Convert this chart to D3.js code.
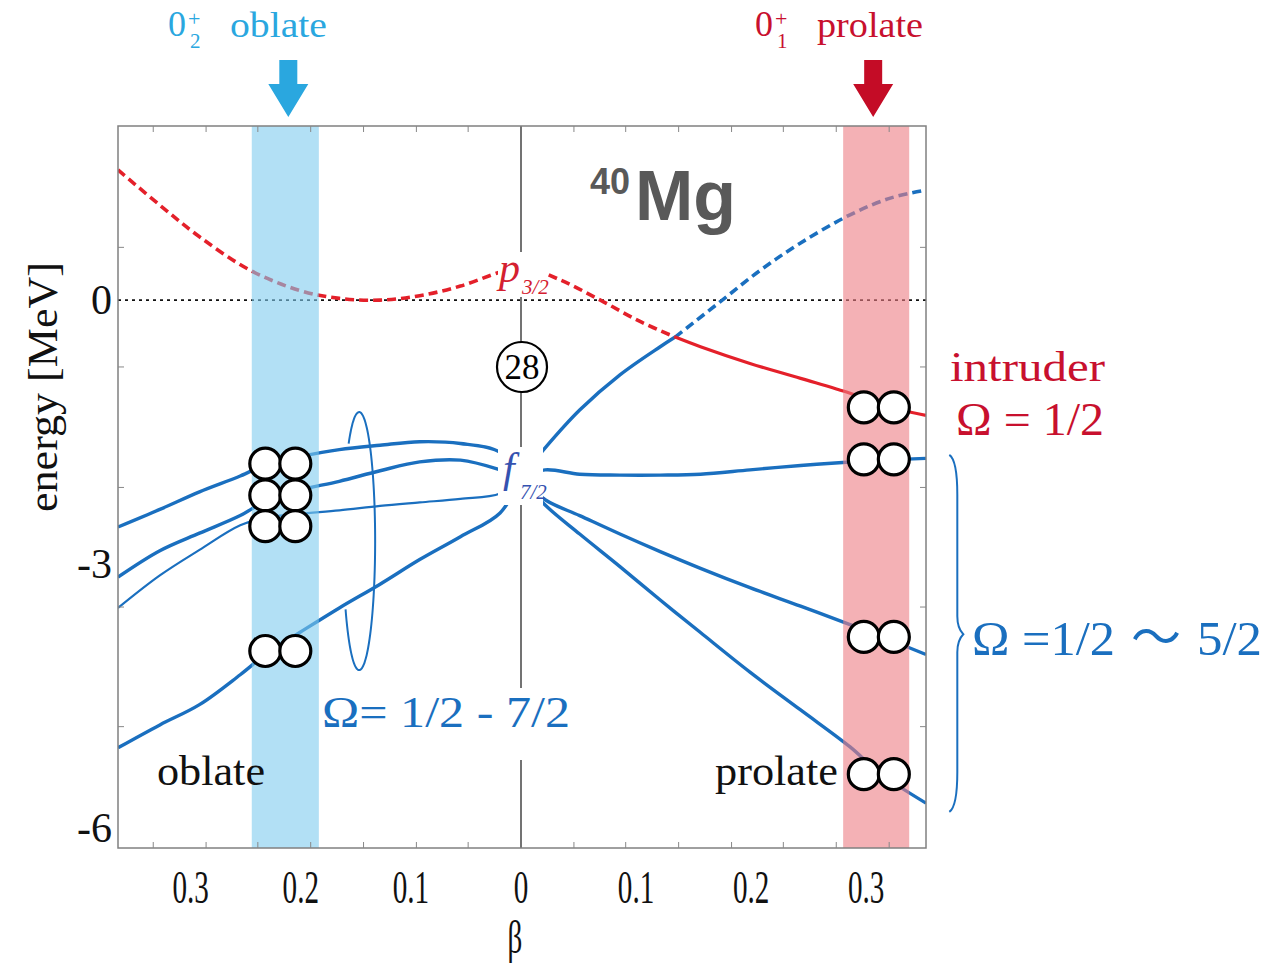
<!DOCTYPE html>
<html>
<head>
<meta charset="utf-8">
<script src="https://cdn.jsdelivr.net/npm/d3@7"></script>
<style>
  body { margin: 0; background: #fff; }
  svg { display: block; font-family: "Liberation Serif", "Times New Roman", serif; }
</style>
</head>
<body>
<svg id="chart" width="1276" height="963"></svg>
<script>
// Nilsson-type single-particle levels of 40Mg versus deformation β
// (oblate side drawn with negative β, prolate side with positive β)

// oblate side sampling grid and levels (MeV)
const betaOblate = [-0.366, -0.328, -0.292, -0.255, -0.230, -0.201, -0.165, -0.128, -0.092, -0.055, -0.019, 0];
const oblateLevelA = [-2.58, -2.38, -2.18, -2.00, -1.86, -1.78, -1.70, -1.65, -1.61, -1.63, -1.73, -2.02];
const oblateLevelB = [-3.15, -2.85, -2.65, -2.45, -2.27, -2.16, -2.06, -1.94, -1.84, -1.82, -1.93, -2.02];
const oblateLevelC = [-3.50, -3.13, -2.84, -2.56, -2.47, -2.43, -2.39, -2.34, -2.30, -2.26, -2.20, -2.02];
const oblateLevelD = [-5.09, -4.83, -4.60, -4.26, -4.01, -3.78, -3.50, -3.23, -2.95, -2.69, -2.42, -2.02];

// prolate side sampling grid and levels (MeV)
const betaProlate = [0, 0.021, 0.051, 0.086, 0.121, 0.156, 0.199, 0.243, 0.286, 0.312, 0.352];
const prolateLevelFlat = [-2.02, -1.93, -1.98, -1.99, -1.99, -1.98, -1.93, -1.88, -1.84, -1.82, -1.80];
const prolateLevelMid = [-2.02, -2.27, -2.45, -2.66, -2.86, -3.05, -3.27, -3.48, -3.69, -3.82, -4.03];
const prolateLevelLow = [-2.02, -2.33, -2.66, -3.03, -3.41, -3.78, -4.23, -4.66, -5.08, -5.38, -5.72];

// f7/2 Ω=1/2 level rising on the prolate side (solid below the crossing, dashed above)
const risingBetaSolid = [0, 0.021, 0.051, 0.086, 0.121, 0.134];
const risingESolid = [-2.02, -1.68, -1.25, -0.85, -0.53, -0.42];
const risingBetaDashed = [0.134, 0.173, 0.208, 0.243, 0.286, 0.321, 0.352];
const risingEDashed = [-0.42, -0.02, 0.34, 0.65, 0.97, 1.16, 1.25];

// p3/2 intruder level
const intruderBetaDashed = [-0.366, -0.328, -0.292, -0.246, -0.201, -0.165, -0.128, -0.092, -0.055, -0.019, 0, 0.034, 0.069, 0.103, 0.134];
const intruderEDashed = [1.48, 1.08, 0.72, 0.34, 0.11, 0.02, 0.00, 0.05, 0.16, 0.32, 0.39, 0.23, 0.00, -0.24, -0.42];
const intruderBetaSolid = [0.134, 0.156, 0.199, 0.243, 0.286, 0.312, 0.352];
const intruderESolid = [-0.42, -0.53, -0.72, -0.89, -1.06, -1.19, -1.31];

// occupied neutron pairs at the two minima
const oblateMinBeta = -0.2186;
const oblatePairE = [-1.86, -2.22, -2.57, -3.99];
const prolateMinBeta = 0.311;
const prolatePairE = [-1.22, -1.81, -3.83, -5.39];

// shaded deformation windows
const oblateBand = [-0.2445, -0.1836];
const prolateBand = [0.280, 0.3374];

// axis ticks
const betaTickValues = [-0.3, -0.2, -0.1, 0, 0.1, 0.2, 0.3];
const energyTickValues = [0, -3, -6];
const betaMinorTicks = [-0.334, -0.286, -0.239, -0.191, -0.143, -0.095, -0.048, 0.046, 0.091, 0.137, 0.183, 0.228, 0.274, 0.320];
const energyMinorTicks = [0.60, -0.76, -2.13, -3.49, -4.85];

const blue = "#1a6fbf";
const red = "#e4202a";
const crimson = "#c8102e";
const sky = "#2aa7df";

const svg = d3.select("#chart");
const plot = { left: 118, right: 926, top: 126, bottom: 848 };

const x = d3.scaleLinear().domain([-0.366, 0, 0.352]).range([plot.left, 521, plot.right]);
const y = d3.scaleLinear().domain([1.98, -6.23]).range([plot.top, plot.bottom]);

const zip = (bs, es) => bs.map((b, i) => [b, es[i]]);
const line = d3.line().x(d => x(d[0])).y(d => y(d[1])).curve(d3.curveCatmullRom.alpha(0.5));

svg.append("clipPath").attr("id", "plotClip")
  .append("rect").attr("x", plot.left).attr("y", plot.top)
  .attr("width", plot.right - plot.left).attr("height", plot.bottom - plot.top);

// zero-energy reference and β = 0 axis
svg.append("line")
  .attr("x1", plot.left).attr("x2", plot.right).attr("y1", y(0)).attr("y2", y(0))
  .attr("stroke", "#111").attr("stroke-width", 1.6).attr("stroke-dasharray", "3,4");
svg.append("line")
  .attr("x1", x(0)).attr("x2", x(0)).attr("y1", plot.top).attr("y2", plot.bottom)
  .attr("stroke", "#444").attr("stroke-width", 1.5);

// levels
const levels = svg.append("g").attr("clip-path", "url(#plotClip)").attr("fill", "none");
const levelDefs = [
  { pts: zip(betaOblate, oblateLevelA), color: blue, w: 3.4 },
  { pts: zip(betaOblate, oblateLevelB), color: blue, w: 3.4 },
  { pts: zip(betaOblate, oblateLevelC), color: blue, w: 2.2 },
  { pts: zip(betaOblate, oblateLevelD), color: blue, w: 3.4 },
  { pts: zip(betaProlate, prolateLevelFlat), color: blue, w: 3.4 },
  { pts: zip(betaProlate, prolateLevelMid), color: blue, w: 3.4 },
  { pts: zip(betaProlate, prolateLevelLow), color: blue, w: 3.4 },
  { pts: zip(risingBetaSolid, risingESolid), color: blue, w: 3.4 },
  { pts: zip(risingBetaDashed, risingEDashed), color: blue, w: 3.6, dash: "9,5" },
  { pts: zip(intruderBetaDashed, intruderEDashed), color: red, w: 3.6, dash: "9,5" },
  { pts: zip(intruderBetaSolid, intruderESolid), color: red, w: 3.2 }
];
levels.selectAll("path").data(levelDefs).join("path")
  .attr("d", d => line(d.pts))
  .attr("stroke", d => d.color)
  .attr("stroke-width", d => d.w)
  .attr("stroke-dasharray", d => d.dash || null);

// shaded windows around the two minima
svg.selectAll("rect.band").data([
  { r: oblateBand, fill: "#7fcbee" },
  { r: prolateBand, fill: "#ed7d84" }
]).join("rect").attr("class", "band")
  .attr("x", d => x(d.r[0])).attr("width", d => x(d.r[1]) - x(d.r[0]))
  .attr("y", plot.top).attr("height", plot.bottom - plot.top)
  .attr("fill", d => d.fill).attr("opacity", 0.6);

// frame and ticks
svg.append("rect")
  .attr("x", plot.left).attr("y", plot.top)
  .attr("width", plot.right - plot.left).attr("height", plot.bottom - plot.top)
  .attr("fill", "none").attr("stroke", "#808080").attr("stroke-width", 1.5);
const ticks = svg.append("g").attr("stroke", "#888").attr("stroke-width", 1);
betaMinorTicks.forEach(b => {
  ticks.append("line").attr("x1", x(b)).attr("x2", x(b)).attr("y1", plot.bottom).attr("y2", plot.bottom - 6);
  ticks.append("line").attr("x1", x(b)).attr("x2", x(b)).attr("y1", plot.top).attr("y2", plot.top + 6);
});
energyMinorTicks.forEach(e => {
  ticks.append("line").attr("x1", plot.left).attr("x2", plot.left + 6).attr("y1", y(e)).attr("y2", y(e));
  ticks.append("line").attr("x1", plot.right).attr("x2", plot.right - 6).attr("y1", y(e)).attr("y2", y(e));
});

// occupied pairs
const pairDx = 15;
const pairData = [];
oblatePairE.forEach(e => pairData.push([oblateMinBeta, e]));
prolatePairE.forEach(e => pairData.push([prolateMinBeta, e]));
const pairs = svg.append("g");
pairData.forEach(p => {
  [-pairDx, pairDx].forEach(dx => {
    pairs.append("circle")
      .attr("cx", x(p[0]) + dx).attr("cy", y(p[1])).attr("r", 15.5)
      .attr("fill", "#fff").attr("stroke", "#000").attr("stroke-width", 3.2);
  });
});

// tick labels
svg.selectAll("text.xtick").data(betaTickValues).join("text").attr("class", "xtick")
  .attr("transform", d => `translate(${x(d)},903) scale(0.62,1)`)
  .attr("text-anchor", "middle").attr("font-size", 47).attr("fill", "#111")
  .text(d => d === 0 ? "0" : String(Math.abs(d)));
svg.append("text")
  .attr("transform", "translate(515,953) scale(0.62,1)")
  .attr("text-anchor", "middle").attr("font-size", 47).attr("fill", "#111").text("β");
svg.selectAll("text.ytick").data(energyTickValues).join("text").attr("class", "ytick")
  .attr("x", 112).attr("y", d => y(d)).attr("dy", "0.33em")
  .attr("text-anchor", "end").attr("font-size", 42).attr("fill", "#111")
  .text(d => d === 0 ? "0" : "-" + Math.abs(d));
svg.append("text")
  .attr("transform", "translate(57,387) rotate(-90)")
  .attr("text-anchor", "middle").attr("font-size", 43).attr("fill", "#111")
  .attr("textLength", 250).attr("lengthAdjust", "spacingAndGlyphs")
  .text("energy [MeV]");

// labels on the β = 0 axis
svg.append("rect").attr("x", 498).attr("y", 252).attr("width", 48).attr("height", 45).attr("fill", "#fff");
svg.append("text").attr("x", 499).attr("y", 282).attr("font-size", 42).attr("font-style", "italic")
  .attr("fill", "#d42030").text("p");
svg.append("text").attr("x", 522).attr("y", 294).attr("font-size", 21).attr("font-style", "italic")
  .attr("fill", "#d42030").text("3/2");

svg.append("circle").attr("cx", x(0) + 1).attr("cy", 367).attr("r", 25)
  .attr("fill", "#fff").attr("stroke", "#000").attr("stroke-width", 2.2);
svg.append("text").attr("x", x(0) + 1).attr("y", 379).attr("text-anchor", "middle")
  .attr("font-size", 35).attr("fill", "#000").text("28");

svg.append("rect").attr("x", 498).attr("y", 447).attr("width", 45).attr("height", 58).attr("fill", "#fff");
svg.append("text").attr("x", 503).attr("y", 482).attr("font-size", 42).attr("font-style", "italic")
  .attr("fill", "#3552b0").text("f");
svg.append("text").attr("x", 520).attr("y", 499).attr("font-size", 21).attr("font-style", "italic")
  .attr("fill", "#3552b0").text("7/2");

// Ω grouping of the oblate levels
const ellC = [x(-0.147), y(-2.74)];
const ellPts = d3.range(-131, 151, 3).map(t => {
  const a = t * Math.PI / 180;
  return [ellC[0] + 16 * Math.cos(a), ellC[1] + 129 * Math.sin(a)];
});
svg.append("path").attr("d", d3.line().curve(d3.curveCatmullRom)(ellPts))
  .attr("fill", "none").attr("stroke", blue).attr("stroke-width", 2);

svg.append("rect").attr("x", 321).attr("y", 688).attr("width", 254).attr("height", 72).attr("fill", "#fff");
svg.append("text").attr("x", 322).attr("y", 727).attr("font-size", 44).attr("fill", blue)
  .attr("textLength", 248).attr("lengthAdjust", "spacingAndGlyphs").text("Ω= 1/2 - 7/2");

// shape labels inside the frame
svg.append("text").attr("x", 157).attr("y", 785).attr("font-size", 42).attr("fill", "#111")
  .attr("textLength", 108).attr("lengthAdjust", "spacingAndGlyphs").text("oblate");
svg.append("text").attr("x", 715).attr("y", 785).attr("font-size", 42).attr("fill", "#111")
  .attr("textLength", 123).attr("lengthAdjust", "spacingAndGlyphs").text("prolate");

// nucleus label
const mg = svg.append("text").attr("fill", "#595959")
  .style("font-family", "'Liberation Sans', Arial, sans-serif").attr("font-weight", "bold");
mg.append("tspan").attr("x", 590).attr("y", 194).attr("font-size", 36).text("40");
mg.append("tspan").attr("x", 635).attr("y", 220).attr("font-size", 70).text("Mg");

// right-hand annotations
svg.append("text").attr("x", 950).attr("y", 381).attr("font-size", 43).attr("fill", crimson)
  .attr("textLength", 155).attr("lengthAdjust", "spacingAndGlyphs").text("intruder");
svg.append("text").attr("x", 956).attr("y", 435).attr("font-size", 47).attr("fill", crimson)
  .attr("textLength", 148).attr("lengthAdjust", "spacingAndGlyphs").text("Ω = 1/2");

const bx = x(0.374), bTop = y(-1.76), bTip = y(-3.80), bBot = y(-5.82);
const brace = d3.path();
brace.moveTo(bx - 2, bTop);
brace.bezierCurveTo(bx + 4, bTop + 4, bx + 6, bTop + 20, bx + 6, bTop + 40);
brace.lineTo(bx + 6, bTip - 18);
brace.bezierCurveTo(bx + 6, bTip - 8, bx + 9, bTip - 3, bx + 12, bTip);
brace.bezierCurveTo(bx + 9, bTip + 3, bx + 6, bTip + 8, bx + 6, bTip + 18);
brace.lineTo(bx + 6, bBot - 40);
brace.bezierCurveTo(bx + 6, bBot - 20, bx + 4, bBot - 4, bx - 2, bBot);
svg.append("path").attr("d", brace.toString()).attr("fill", "none")
  .attr("stroke", blue).attr("stroke-width", 2);
svg.append("text").attr("x", 972).attr("y", 655).attr("font-size", 49).attr("fill", blue)
  .attr("textLength", 143).attr("lengthAdjust", "spacingAndGlyphs").text("Ω =1/2");
svg.append("text").attr("x", 1156).attr("y", 655).attr("text-anchor", "middle")
  .attr("font-size", 50).attr("fill", blue)
  .style("font-family", "'Noto Sans CJK JP', 'DejaVu Sans', sans-serif").text("～");
svg.append("text").attr("x", 1197).attr("y", 655).attr("font-size", 49).attr("fill", blue)
  .attr("textLength", 65).attr("lengthAdjust", "spacingAndGlyphs").text("5/2");

// state markers above the frame
function stateLabel(x0, digit, color, word, wordX, wordLen) {
  svg.append("text").attr("x", x0).attr("y", 36).attr("font-size", 36).attr("fill", color).text("0");
  svg.append("text").attr("x", x0 + 20).attr("y", 26).attr("font-size", 22).attr("fill", color).text("+");
  svg.append("text").attr("x", x0 + 22).attr("y", 48).attr("font-size", 21).attr("fill", color).text(digit);
  svg.append("text").attr("x", wordX).attr("y", 37).attr("font-size", 36).attr("fill", color)
    .attr("textLength", wordLen).attr("lengthAdjust", "spacingAndGlyphs").text(word);
}
stateLabel(168, "2", sky, "oblate", 230, 97);
stateLabel(755, "1", crimson, "prolate", 817, 106);

function arrow(cx, color) {
  const p = d3.path();
  p.moveTo(cx - 9, 60); p.lineTo(cx + 9, 60); p.lineTo(cx + 9, 84);
  p.lineTo(cx + 20, 84); p.lineTo(cx, 117); p.lineTo(cx - 20, 84);
  p.lineTo(cx - 9, 84); p.closePath();
  svg.append("path").attr("d", p.toString()).attr("fill", color);
}
arrow(x((oblateBand[0] + oblateBand[1]) / 2) + 3, sky);
arrow(x((prolateBand[0] + prolateBand[1]) / 2) - 3, "#c40c26");
</script>
</body>
</html>
